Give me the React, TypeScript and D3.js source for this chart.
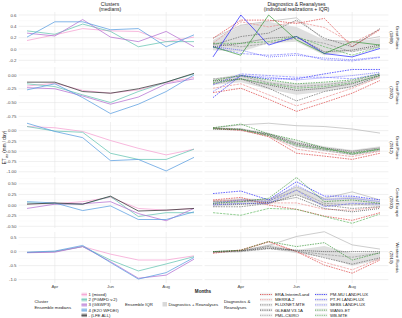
import { useEffect, useRef } from 'react';
import * as d3 from 'd3';

const months = ['Mar', 'Apr', 'May', 'Jun', 'Jul', 'Aug', 'Sep'];
const monthTicks = ['Apr', 'Jun', 'Aug'];
const clusterNames = ['1 (mixed)', '2 (PGMFD v.2)', '3 (GSWP3)', '4 (E2O WFDEI)', '- (LFE ALL)'];
const diagNames = [
  'ERA-Interim/Land', 'MERRA-2', 'FLUXNET-MTE', 'GLEAM V3.1A', 'PML-CSIRO',
  'PM-MU LANDFLUX', 'PT-FI LANDFLUX', 'SEBS LANDFLUX', 'WANG-ET', 'WB-MTE',
];
const regionNames = [
  ['Great Plains', '(1988)'],
  ['Great Plains', '(2002)'],
  ['Great Plains', '(2012)'],
  ['Central Europe', '(2003)'],
  ['Western Russia', '(2010)'],
];

// y tick values per region row
const yTicks = [
  [-0.2, 0, 0.2, 0.4, 0.6],
  [-0.75, -0.5, -0.25, 0],
  [-1, -0.75, -0.5, -0.25, 0],
  [-0.5, -0.25, 0, 0.25, 0.5],
  [-1, -0.5, 0, 0.5],
];
const yDomains = [
  [-0.247, 0.653],
  [-0.78, 0.145],
  [-1.03, 0.21],
  [-0.54, 0.66],
  [-1.12, 0.7],
];

// cluster medians: mixed, PGMFD, GSWP3, E2O, LFE ALL
const gp1988Clusters = [
  [0.15, 0.25, 0.36, 0.32, 0.31, 0.13, 0.21],
  [0.32, 0.26, 0.44, 0.31, 0.04, 0.13, 0.13],
  [0.28, 0.23, 0.52, 0.21, 0.13, 0.31, 0.04],
  [0.21, 0.48, 0.48, 0.34, 0.36, 0.04, 0.25],
  null,
];
const gp2002Clusters = [
  [-0.2, -0.15, -0.28, -0.33, -0.27, -0.14, -0.04],
  [-0.16, -0.21, -0.36, -0.5, -0.3, -0.13, 0.02],
  [-0.23, -0.25, -0.38, -0.53, -0.4, -0.16, -0.07],
  [-0.27, -0.16, -0.41, -0.7, -0.53, -0.3, 0.0],
  [-0.13, -0.13, -0.3, -0.33, -0.25, -0.13, 0.03],
];
const gp2012Clusters = [
  [0.1, 0.07, -0.02, -0.24, -0.43, -0.59, -0.45],
  [0.1, -0.01, -0.04, -0.55, -0.7, -0.7, -0.45],
  null,
  [0.18, -0.02, -0.17, -0.73, -0.7, -0.98, -0.65],
  null,
];
const ce2003Clusters = [
  [0.03, 0.03, 0.08, 0.18, -0.08, -0.12, -0.08],
  [0.05, 0.03, 0.02, 0.2, -0.27, -0.18, -0.18],
  [-0.08, 0.02, 0.03, 0.08, -0.2, -0.37, -0.08],
  [0.08, 0.05, -0.13, -0.02, -0.34, -0.34, -0.16],
  [0.02, 0.05, 0.02, 0.21, -0.14, -0.12, -0.08],
];
const wr2010Clusters = [
  [-0.03, 0.0, 0.18, -0.09, -0.3, -0.3, -0.15],
  [-0.03, 0.0, 0.18, -0.3, -0.69, -0.44, -0.18],
  [-0.04, -0.02, 0.18, -0.36, -0.95, -0.84, -0.27],
  [-0.02, 0.02, 0.22, -0.39, -0.98, -0.75, -0.21],
  null,
];

// diagnostics & reanalyses, same order as diagNames
const gp1988Diag = [
  [0.19, 0.51, 0.51, 0.45, 0.54, 0.04, 0.34],
  [0.1, 0.48, 0.39, 0.48, 0.38, 0.1, 0.35],
  [0.07, 0.22, 0.28, 0.51, 0.19, 0.04, 0.36],
  [0.04, 0.1, 0.19, 0.22, -0.05, -0.02, 0.07],
  [0.1, 0.04, 0.1, 0.19, 0.1, -0.05, 0.04],
  [-0.14, 0.6, 0.07, 0.22, -0.08, -0.14, 0.01],
  [0.04, -0.02, -0.14, -0.11, -0.16, -0.19, -0.14],
  [0.03, -0.08, -0.11, -0.08, -0.19, -0.21, -0.15],
  [0.04, -0.11, 0.6, 0.16, -0.08, 0.13, 0.07],
  [0.1, 0.1, 0.13, 0.22, 0.04, -0.11, 0.04],
];
const gp2002Diag = [
  [-0.32, -0.24, -0.44, -0.66, -0.5, -0.33, -0.1],
  [-0.24, -0.16, -0.36, -0.56, -0.41, -0.24, -0.04],
  [-0.16, -0.07, -0.24, -0.47, -0.3, -0.21, -0.01],
  [-0.11, -0.07, -0.18, -0.28, -0.24, -0.16, 0.0],
  [-0.07, -0.02, -0.14, -0.21, -0.18, -0.11, 0.02],
  [-0.41, -0.01, -0.07, -0.07, 0.02, 0.1, 0.1],
  [-0.3, -0.01, -0.04, -0.09, -0.05, -0.01, 0.05],
  [-0.18, 0.02, -0.01, -0.04, -0.04, -0.07, 0.02],
  [-0.1, -0.01, -0.09, -0.16, -0.13, -0.09, 0.02],
  [-0.14, -0.07, -0.16, -0.24, -0.21, -0.14, -0.01],
];
const gp2012Diag = [
  [0.06, 0.02, -0.15, -0.55, -0.62, -0.7, -0.55],
  [0.05, 0.0, -0.12, -0.45, -0.55, -0.63, -0.5],
  [0.06, 0.04, -0.1, -0.33, -0.45, -0.53, -0.45],
  [0.04, 0.02, -0.08, -0.3, -0.42, -0.5, -0.42],
  [0.05, 0.03, -0.12, -0.38, -0.48, -0.58, -0.48],
  null,
  null,
  null,
  [0.07, 0.16, -0.08, -0.23, -0.42, -0.57, -0.45],
  [0.05, 0.03, -0.12, -0.35, -0.45, -0.55, -0.45],
];
const ce2003Diag = [
  [0.12, 0.18, 0.0, -0.1, -0.26, -0.36, -0.18],
  [0.1, 0.12, 0.05, 0.05, -0.1, -0.12, -0.05],
  [-0.04, -0.04, 0.04, 0.24, 0.0, -0.08, -0.04],
  [0.02, 0.02, 0.06, 0.18, -0.08, -0.16, -0.08],
  [0.08, 0.08, 0.1, 0.35, 0.04, 0.0, 0.04],
  [0.27, 0.33, 0.12, 0.55, 0.21, 0.21, 0.12],
  [0.04, 0.12, 0.08, 0.47, 0.13, 0.16, 0.08],
  [0.0, 0.04, 0.04, 0.35, -0.04, 0.04, 0.02],
  [0.04, 0.08, 0.16, 0.65, 0.08, 0.12, 0.04],
  [-0.18, -0.24, -0.08, -0.1, -0.27, -0.43, -0.21],
];
const wr2010Diag = [
  [-0.06, 0.06, 0.36, 0.0, -0.48, -0.77, -0.3],
  [-0.03, 0.04, 0.34, 0.0, -0.38, -0.65, -0.25],
  [-0.02, 0.02, 0.18, 0.02, -0.22, -0.45, -0.22],
  [0.0, 0.03, 0.12, 0.05, 0.0, 0.0, 0.0],
  [-0.02, 0.0, 0.1, 0.02, -0.1, -0.2, -0.05],
  null,
  null,
  null,
  [0.0, 0.05, 0.36, 0.18, 0.32, -0.3, -0.04],
  null,
];

// IQR of diagnostics: [upper, lower]
const gp1988Iqr = [
  [0.16, 0.41, 0.48, 0.39, 0.16, 0.13, 0.19],
  [-0.02, -0.05, 0.1, 0.13, -0.11, -0.05, 0.04],
];
const gp2002Iqr = [
  [-0.07, 0.02, -0.11, -0.16, -0.14, -0.11, 0.01],
  [-0.18, -0.13, -0.26, -0.36, -0.3, -0.22, -0.06],
];
const gp2012Iqr = [
  [0.08, 0.06, -0.05, -0.25, -0.38, -0.47, -0.38],
  [0.03, 0.0, -0.15, -0.4, -0.5, -0.6, -0.5],
];
const ce2003Iqr = [
  [0.12, 0.16, 0.13, 0.43, 0.16, 0.2, 0.1],
  [-0.04, 0.0, 0.02, 0.24, -0.04, 0.0, -0.04],
];
const wr2010Iqr = [
  [0.02, 0.04, 0.25, 0.06, 0.2, -0.06, -0.02],
  [-0.04, -0.02, 0.1, -0.06, -0.2, -0.5, -0.3],
];

// extra solid realization (grey)
const gp1988Alt = [0.19, 0.42, 0.49, 0.55, 0.16, 0.13, 0.22];
const gp2002Alt = null;
const gp2012Alt = [0.07, 0.14, 0.18, 0.12, 0.1, 0.04, -0.06];
const ce2003Alt = [0.08, 0.12, 0.13, 0.43, 0.16, 0.31, 0.12];
const wr2010Alt = [0.0, 0.04, 0.22, 0.54, 0.71, 0.24, 0.09];

const clusterColors = ['#f5a0d2', '#66c4b2', '#b470d2', '#5a9ee0', '#333333'];
const diagColors = [
  '#d62020', '#e88080', '#555555', '#1e1e1e', '#8a8a8a',
  '#0000ff', '#3a3aff', '#6b6bff', '#1e8a1e', '#4cae4c',
];
const diagDash = ['1.6,1', '2.4,1', '1.6,1', '1,1', '2.4,1', '1.6,1', '1,1', '2.4,1', '1.6,1', '2.4,1'];
const solidByRow = [[5, 8], [], [], [], []];

const FONT = '"Liberation Sans", Arial, sans-serif';

export default function App() {
  const ref = useRef<SVGSVGElement>(null);

  useEffect(() => {
    const clusters = [gp1988Clusters, gp2002Clusters, gp2012Clusters, ce2003Clusters, wr2010Clusters];
    const diags = [gp1988Diag, gp2002Diag, gp2012Diag, ce2003Diag, wr2010Diag];
    const iqrs = [gp1988Iqr, gp2002Iqr, gp2012Iqr, ce2003Iqr, wr2010Iqr];
    const alts = [gp1988Alt, gp2002Alt, gp2012Alt, ce2003Alt, wr2010Alt];

    const svg = d3.select(ref.current);
    svg.selectAll('*').remove();

    const rowTops = [12, 67, 122, 177, 232];
    const rowH = 51;
    const panels = [
      { x0: 18.6, x1: 202.4, range: [27, 194] },
      { x0: 204.6, x1: 388.4, range: [213, 380] },
    ];
    const xScales = panels.map(p => d3.scalePoint<string>().domain(months).range(p.range as [number, number]));
    const fmt = (v: number, i: number) =>
      d3.format(i === 0 || i === 4 ? '.1f' : '.2f')(v).replace('\u2212', '-');
    const grey = '#4d4d4d';

    // titles
    const titles = [
      { x: 110, lines: ['Clusters', '(medians)'] },
      { x: 296.5, lines: ['Diagnostics & Reanalyses', '(individual realizations + IQR)'] },
    ];
    titles.forEach(t => {
      t.lines.forEach((l, k) => {
        svg
          .append('text')
          .attr('x', t.x)
          .attr('y', 5.5 + k * 5.5)
          .attr('text-anchor', 'middle')
          .style('font-family', FONT)
          .style('font-size', '5px')
          .attr('fill', '#1a1a1a')
          .text(l);
      });
    });

    rowTops.forEach((top, r) => {
      const y = d3.scaleLinear().domain(yDomains[r]).range([top + rowH, top]);

      panels.forEach((p, pi) => {
        const x = xScales[pi];
        const g = svg.append('g');
        // minor grid
        const ticks = yTicks[r];
        const step = ticks[1] - ticks[0];
        d3.range(ticks[0] - step / 2, yDomains[r][1], step)
          .filter(v => v > yDomains[r][0] && v < yDomains[r][1])
          .forEach(v => {
            g.append('line')
              .attr('x1', p.x0).attr('x2', p.x1)
              .attr('y1', y(v)).attr('y2', y(v))
              .attr('stroke', '#f2f2f2').attr('stroke-width', 0.3);
          });
        ['May', 'Jul'].forEach(m => {
          g.append('line')
            .attr('x1', x(m)).attr('x2', x(m))
            .attr('y1', top).attr('y2', top + rowH)
            .attr('stroke', '#f2f2f2').attr('stroke-width', 0.3);
        });
        // major grid
        ticks.forEach(v => {
          g.append('line')
            .attr('x1', p.x0).attr('x2', p.x1)
            .attr('y1', y(v)).attr('y2', y(v))
            .attr('stroke', '#e6e6e6').attr('stroke-width', 0.6);
        });
        monthTicks.forEach(m => {
          g.append('line')
            .attr('x1', x(m)).attr('x2', x(m))
            .attr('y1', top).attr('y2', top + rowH)
            .attr('stroke', '#e6e6e6').attr('stroke-width', 0.6);
        });
      });

      // y tick labels
      yTicks[r].forEach(v => {
        svg
          .append('text')
          .attr('x', 16.5)
          .attr('y', y(v) + 1.6)
          .attr('text-anchor', 'end')
          .style('font-family', FONT)
          .style('font-size', '4.4px')
          .attr('fill', grey)
          .text(fmt(v, r));
      });

      const lineFor = (x: d3.ScalePoint<string>) =>
        d3
          .line<number | null>()
          .defined(d => d != null)
          .x((d, i) => x(months[i]) as number)
          .y(d => y(d as number));

      // left: cluster medians
      const lx = xScales[0];
      clusters[r].forEach((s, ci) => {
        if (!s) return;
        svg
          .append('path')
          .attr('d', lineFor(lx)(s))
          .attr('fill', 'none')
          .attr('stroke', clusterColors[ci])
          .attr('stroke-width', 0.75);
      });

      // right: IQR ribbon
      const rx = xScales[1];
      const [up, lo] = iqrs[r];
      const area = d3
        .area<number>()
        .x((d, i) => rx(months[i]) as number)
        .y0((d, i) => y(lo[i]))
        .y1(d => y(d));
      svg.append('path').attr('d', area(up)).attr('fill', '#d9d9d9').attr('fill-opacity', 0.85);

      if (alts[r]) {
        svg
          .append('path')
          .attr('d', lineFor(rx)(alts[r] as number[]))
          .attr('fill', 'none')
          .attr('stroke', '#ababab')
          .attr('stroke-width', 0.6);
      }

      diags[r].forEach((s, di) => {
        if (!s) return;
        const solid = solidByRow[r].includes(di);
        svg
          .append('path')
          .attr('d', lineFor(rx)(s))
          .attr('fill', 'none')
          .attr('stroke', diagColors[di])
          .attr('stroke-width', 0.6)
          .attr('stroke-dasharray', solid ? null : diagDash[di]);
      });

      // strip labels
      const strip = svg
        .append('g')
        .attr('transform', `translate(395.5, ${top + rowH / 2}) rotate(90)`);
      regionNames[r].forEach((l, k) => {
        strip
          .append('text')
          .attr('x', 0)
          .attr('y', k * 5.2)
          .attr('text-anchor', 'middle')
          .style('font-family', FONT)
          .style('font-size', '4.3px')
          .attr('fill', '#1a1a1a')
          .text(l);
      });
    });

    // x tick labels
    xScales.forEach(x => {
      monthTicks.forEach(m => {
        svg
          .append('text')
          .attr('x', x(m) as number)
          .attr('y', 288)
          .attr('text-anchor', 'middle')
          .style('font-family', FONT)
          .style('font-size', '4.4px')
          .attr('fill', grey)
          .text(m);
      });
    });

    svg
      .append('text')
      .attr('x', 203)
      .attr('y', 292.5)
      .attr('text-anchor', 'middle')
      .style('font-family', FONT)
      .style('font-size', '4.6px')
      .style('font-weight', 'bold')
      .attr('fill', '#1a1a1a')
      .text('Months');

    // y axis title
    const yt = svg
      .append('text')
      .attr('transform', `translate(6, 147.5) rotate(-90)`)
      .attr('text-anchor', 'middle')
      .style('font-family', FONT)
      .style('font-size', '4.6px')
      .attr('fill', '#1a1a1a');
    yt.append('tspan').text('ET');
    yt.append('tspan').attr('baseline-shift', 'sub').style('font-size', '3.4px').text('iav');
    yt.append('tspan').text(' (mm / day)');

    // legend
    const legText = (x: number, yy: number, t: string, anchor = 'start') =>
      svg
        .append('text')
        .attr('x', x)
        .attr('y', yy)
        .attr('text-anchor', anchor)
        .style('font-family', FONT)
        .style('font-size', '4.3px')
        .attr('fill', '#1a1a1a')
        .text(t);

    legText(34.5, 303, 'Cluster');
    legText(34.5, 308.5, 'Ensemble medians');
    const rowY = [294.5, 299.7, 304.9, 310.1, 315.3];
    clusterNames.forEach((n, i) => {
      svg
        .append('rect')
        .attr('x', 81.5).attr('y', rowY[i] - 1.8)
        .attr('width', 5.5).attr('height', 3.6)
        .attr('fill', clusterColors[i]).attr('fill-opacity', 0.45);
      svg
        .append('line')
        .attr('x1', 81.5).attr('x2', 87)
        .attr('y1', rowY[i]).attr('y2', rowY[i])
        .attr('stroke', clusterColors[i]).attr('stroke-width', 0.8);
      legText(88.5, rowY[i] + 1.5, n);
    });

    legText(125, 305.8, 'Ensemble IQR');
    svg
      .append('rect')
      .attr('x', 162.5).attr('y', 302)
      .attr('width', 4.5).attr('height', 4.5)
      .attr('fill', '#d9d9d9');
    legText(168.5, 305.8, 'Diagnostics + Reanalyses');

    legText(224, 303, 'Diagnostics &');
    legText(224, 308.5, 'Reanalyses');
    diagNames.forEach((n, i) => {
      const col = Math.floor(i / 5);
      const kx = col === 0 ? 260 : 315;
      const yy = rowY[i % 5];
      svg
        .append('rect')
        .attr('x', kx).attr('y', yy - 1.8)
        .attr('width', 12.5).attr('height', 3.6)
        .attr('fill', '#f2f2f2');
      svg
        .append('line')
        .attr('x1', kx).attr('x2', kx + 12.5)
        .attr('y1', yy).attr('y2', yy)
        .attr('stroke', diagColors[i])
        .attr('stroke-width', 0.7)
        .attr('stroke-dasharray', '1,0.8');
      legText(kx + 15, yy + 1.5, n);
    });
  }, []);

  return (
    <svg
      ref={ref}
      width={402}
      height={318}
      style={{ position: 'absolute', left: 0, top: 0, background: '#fff' }}
    />
  );
}
